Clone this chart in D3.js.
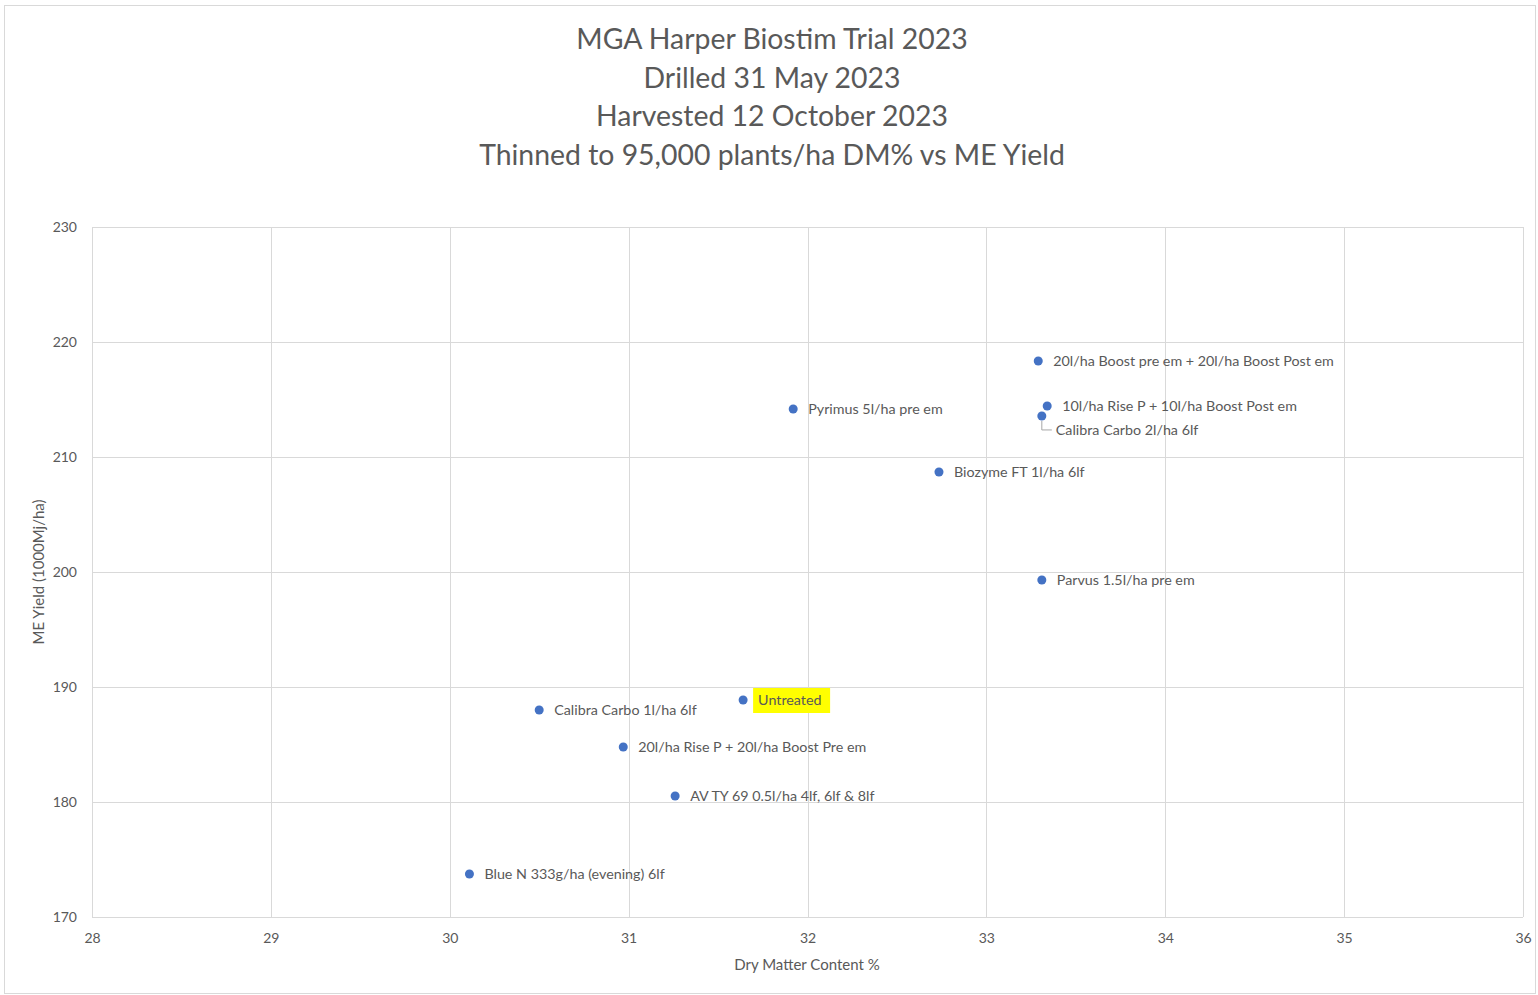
<!DOCTYPE html>
<html>
<head>
<meta charset="utf-8">
<script src="https://cdn.jsdelivr.net/npm/d3@7"></script>
<style>
  body { margin: 0; background: #fff; }
  text { font-family: Lato, "Open Sans", sans-serif; fill: #595959; }
</style>
</head>
<body>
<svg id="chart" width="1538" height="995"></svg>
<script>
// treatment names, DM% and ME yield
const treatments = [
  "20l/ha Boost pre em + 20l/ha Boost Post em",
  "10l/ha Rise P + 10l/ha Boost Post em",
  "Calibra Carbo 2l/ha 6lf",
  "Pyrimus 5l/ha pre em",
  "Biozyme FT 1l/ha 6lf",
  "Parvus 1.5l/ha pre em",
  "Untreated",
  "Calibra Carbo 1l/ha 6lf",
  "20l/ha Rise P + 20l/ha Boost Pre em",
  "AV TY 69 0.5l/ha 4lf, 6lf & 8lf",
  "Blue N 333g/ha (evening) 6lf"
];
const dryMatter = [33.29, 33.34, 33.31, 31.92, 32.735, 33.31, 31.64, 30.50, 30.97, 31.26, 30.11];
const meYield = [218.35, 214.43, 213.57, 214.17, 208.70, 199.30, 188.87, 188.0, 184.78, 180.52, 173.74];

const xTicks = [28, 29, 30, 31, 32, 33, 34, 35, 36];
const yTicks = [170, 180, 190, 200, 210, 220, 230];

const titleLines = [
  "MGA Harper Biostim Trial 2023",
  "Drilled 31 May 2023",
  "Harvested 12 October 2023",
  "Thinned to 95,000 plants/ha DM% vs ME Yield"
];

const points = treatments.map((name, i) => ({ name, x: dryMatter[i], y: meYield[i] }));

const svg = d3.select("#chart");

// outer chart border
svg.append("rect")
  .attr("x", 4.5).attr("y", 5.5)
  .attr("width", 1531).attr("height", 988)
  .attr("fill", "#fff")
  .attr("stroke", "#d9d9d9");

const x = d3.scaleLinear().domain([28, 36]).range([92, 1523]);
const y = d3.scaleLinear().domain([170, 230]).range([917, 227]);

// gridlines
svg.append("g")
  .selectAll("line")
  .data(xTicks)
  .join("line")
  .attr("x1", d => Math.round(x(d)) + 0.5)
  .attr("x2", d => Math.round(x(d)) + 0.5)
  .attr("y1", y(230)).attr("y2", y(170))
  .attr("stroke", "#d9d9d9");

svg.append("g")
  .selectAll("line")
  .data(yTicks)
  .join("line")
  .attr("x1", x(28)).attr("x2", x(36))
  .attr("y1", d => Math.round(y(d)) + 0.5)
  .attr("y2", d => Math.round(y(d)) + 0.5)
  .attr("stroke", "#d9d9d9");

// axes (tick labels only)
const xAxis = svg.append("g")
  .attr("transform", `translate(0,${y(170)})`)
  .call(d3.axisBottom(x).tickValues(xTicks).tickSize(0).tickPadding(16));
xAxis.select(".domain").remove();
xAxis.selectAll("text").style("font-size", "14px").attr("fill", "#595959");

const yAxis = svg.append("g")
  .attr("transform", `translate(${x(28)},0)`)
  .call(d3.axisLeft(y).tickValues(yTicks).tickSize(0).tickPadding(15));
yAxis.select(".domain").remove();
yAxis.selectAll("text").style("font-size", "14px").attr("fill", "#595959");

// title
svg.append("text")
  .attr("text-anchor", "middle")
  .style("font-size", "28.4px")
  .selectAll("tspan")
  .data(titleLines)
  .join("tspan")
  .attr("x", 772)
  .attr("y", (d, i) => 49 + i * 38.5)
  .text(d => d);

// axis titles
svg.append("text")
  .attr("x", 807).attr("y", 970)
  .attr("text-anchor", "middle")
  .style("font-size", "15px")
  .text("Dry Matter Content %");

svg.append("text")
  .attr("transform", "translate(44,572) rotate(-90)")
  .attr("text-anchor", "middle")
  .style("font-size", "15px")
  .text("ME Yield (1000Mj/ha)");

// leader line for Calibra Carbo 2l/ha
const leader = points[2];
svg.append("path")
  .attr("d", `M${x(leader.x)},${y(leader.y) + 5} V${y(leader.y) + 14} H${x(leader.x) + 10}`)
  .attr("fill", "none")
  .attr("stroke", "#a6a6a6");

// highlight behind Untreated
const untreated = points[6];
svg.append("rect")
  .attr("x", x(untreated.x) + 10)
  .attr("y", y(untreated.y) - 12)
  .attr("width", 77)
  .attr("height", 25)
  .attr("fill", "#ffff00");

// points
svg.append("g")
  .selectAll("circle")
  .data(points)
  .join("circle")
  .attr("cx", d => x(d.x))
  .attr("cy", d => y(d.y))
  .attr("r", 4.5)
  .attr("fill", "#4472c4");

// labels
svg.append("g")
  .selectAll("text")
  .data(points)
  .join("text")
  .attr("x", (d, i) => i === 2 ? x(d.x) + 14 : x(d.x) + 15)
  .attr("y", (d, i) => i === 2 ? y(d.y) + 19 : y(d.y) + 5)
  .style("font-size", "14.3px")
  .text(d => d.name);
</script>
</body>
</html>
